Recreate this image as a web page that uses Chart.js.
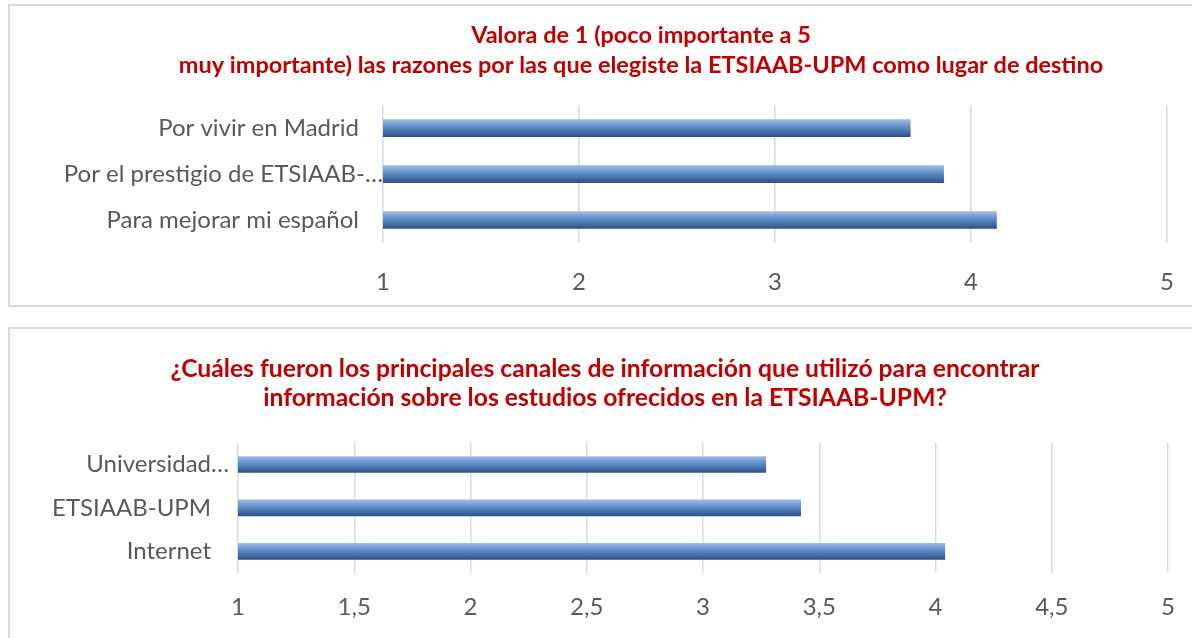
<!DOCTYPE html>
<html>
<head>
<meta charset="utf-8">
<script src="https://cdn.jsdelivr.net/npm/chart.js@4"></script>
<style>
  html, body { margin: 0; padding: 0; background: #fff; overflow: hidden; }
  body { width: 1192px; height: 638px; position: relative; }
  .frame { position: absolute; border: 2px solid #d9d9d9; border-right: none; }
  #frame1 { left: 8px; top: 4px; width: 1200px; height: 299px; }
  #frame2 { left: 8px; top: 327px; width: 1200px; height: 320px; }
  canvas { position: absolute; left: 0; }
  #chart-reasons { top: 0; }
  #chart-channels { top: 320px; }
</style>
</head>
<body>
<div class="frame" id="frame1"></div>
<div class="frame" id="frame2"></div>
<canvas id="chart-reasons" width="1199" height="305"></canvas>
<canvas id="chart-channels" width="1195" height="318"></canvas>
<script>
const reasonLabels = ['Por vivir en Madrid', 'Por el prestigio de ETSIAAB-…', 'Para mejorar mi español'];
const reasonValues = [3.69, 3.86, 4.13];
const reasonTitle = ['Valora de 1 (poco importante a 5', 'muy importante) las razones por las que elegiste la ETSIAAB-UPM como lugar de destino'];

const channelLabels = ['Universidad…', 'ETSIAAB-UPM', 'Internet'];
const channelValues = [3.27, 3.42, 4.04];
const channelTitle = ['¿Cuáles fueron los principales canales de información que utilizó para encontrar', 'información sobre los estudios ofrecidos en la ETSIAAB-UPM?'];

const FONT = 'Lato, "Noto Sans", sans-serif';
Chart.defaults.font.family = FONT;
Chart.defaults.color = '#595959';

function barGradient(c, thick) {
  if (c.type !== 'data' || !c.chart.scales.y) return '#4f81bd';
  const py = c.chart.scales.y.getPixelForValue(c.dataIndex);
  if (!isFinite(py)) return '#4f81bd';
  const g = c.chart.ctx.createLinearGradient(0, py - thick / 2, 0, py + thick / 2);
  g.addColorStop(0, '#9dbce2');
  g.addColorStop(0.45, '#5f8cc8');
  g.addColorStop(1, '#2c5387');
  return g;
}

// the original frame is wider than the window, so its title sits right of our canvas centre
const titleShift = {
  id: 'titleShift',
  afterLayout(chart, args, opts) {
    if (!chart.titleBlock || !opts.center) return;
    chart.titleBlock.left = 0;
    chart.titleBlock.right = opts.center * 2;
  }
};

function makeChart(id, labels, values, title, opt) {
  return new Chart(document.getElementById(id), {
    type: 'bar',
    plugins: [titleShift],
    data: {
      labels: labels,
      datasets: [{
        data: values,
        barThickness: opt.thick,
        backgroundColor: c => barGradient(c, opt.thick),
        borderWidth: 0,
      }]
    },
    options: {
      indexAxis: 'y',
      responsive: false,
      animation: false,
      layout: { padding: { left: 0, right: 11, top: 0, bottom: 0 } },
      plugins: {
        legend: { display: false },
        tooltip: { enabled: false },
        titleShift: { center: opt.titleCenter },
        title: {
          display: true,
          text: title,
          color: '#c00000',
          font: { size: opt.titleSize, weight: 'bold', lineHeight: opt.titleLine },
          padding: { top: opt.titleTop, bottom: opt.titleBottom },
        },
      },
      scales: {
        x: {
          min: 1, max: 5,
          afterFit: s => { s.height = opt.axisBottom; },
          ticks: {
            stepSize: opt.step,
            color: '#595959',
            font: { size: 24 },
            padding: opt.tickPad,
            maxRotation: 0,
            callback: v => String(v).replace('.', ','),
          },
          grid: { color: '#d9d9d9', lineWidth: 1.5, drawTicks: false },
          border: { display: false },
        },
        y: {
          afterFit: s => { s.width = opt.axisLeft; },
          ticks: {
            color: '#595959',
            font: { size: 24 },
            padding: opt.labelGap,
            callback: function (v) {
              const l = this.getLabelForValue(v);
              return l.endsWith('…') ? l : l + opt.labelPad;
            },
          },
          grid: { display: false },
          border: { display: false },
        },
      },
    },
  });
}

makeChart('chart-reasons', reasonLabels, reasonValues, reasonTitle, {
  thick: 17, step: 1, axisLeft: 383, axisBottom: 62, tickPad: 25,
  titleSize: 23.5, titleLine: 1.28, titleTop: 20, titleBottom: 25, titleCenter: 641,
  labelGap: -8, labelPad: '\u2003\u2009\u2009',
});

makeChart('chart-channels', channelLabels, channelValues, channelTitle, {
  thick: 16, step: 0.5, axisLeft: 238, axisBottom: 65, tickPad: 20,
  titleSize: 24.7, titleLine: 1.19, titleTop: 34, titleBottom: 30, titleCenter: 605,
  labelGap: 1, labelPad: '\u2003',
});
</script>
</body>
</html>
